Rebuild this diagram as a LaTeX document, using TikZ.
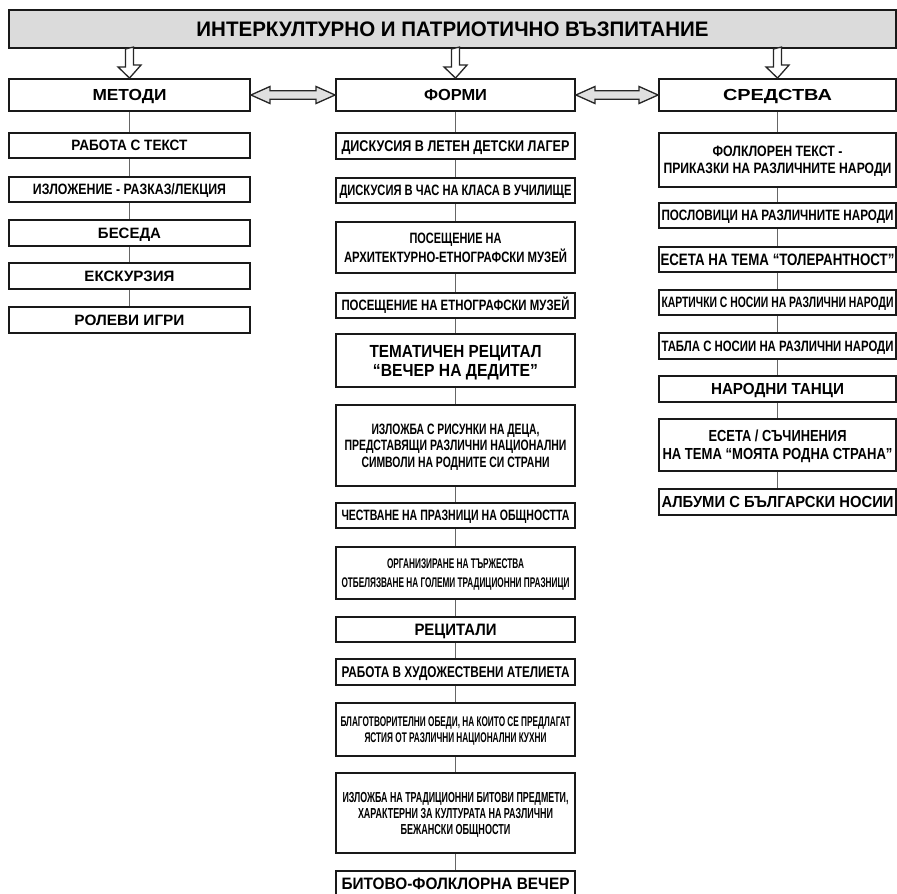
\documentclass[tikz,border=0pt]{standalone}
\usepackage{fontspec}
\setmainfont{Liberation Sans}
\usepackage{graphicx}
\usetikzlibrary{calc}

\newcommand{\fitto}[2]{\raisebox{0pt}[0.72em][0pt]{\resizebox{#1pt}{\height}{#2}}}
\newcommand{\fsz}[2]{\fontsize{#1}{#2}\selectfont\bfseries}

\begin{document}
\begin{tikzpicture}[x=1pt,y=-1pt,
  box/.style={draw=black!90,line width=1.9pt,fill=white,inner sep=0pt,align=center},
  mcol/.style={box,minimum width=241pt},
  fcol/.style={box,minimum width=239pt},
  scol/.style={box,minimum width=237pt},
  link/.style={draw=black!60,line width=0.9pt},
  downarrow/.style={draw=black!85,line width=1.3pt,fill=white,line join=miter},
  twoway/.style={draw=black!85,line width=1.3pt,fill=black!12,line join=miter}]
\fill[white] (0,0) rectangle (897,894);
\useasboundingbox (0,0) rectangle (897,894);

% title and the three column heads
\node[box,fill=black!14,minimum width=887pt,minimum height=38pt,font=\fsz{21}{25}] (head) at (452.5,29) {\fitto{512}{ИНТЕРКУЛТУРНО И ПАТРИОТИЧНО ВЪЗПИТАНИЕ}};
\node[mcol,minimum height=32pt,font=\fsz{16}{18}] (methods) at (129.5,95) {\fitto{74}{МЕТОДИ}};
\node[fcol,minimum height=32pt,font=\fsz{16}{18}] (forms) at (455.5,95) {\fitto{63}{ФОРМИ}};
\node[scol,minimum height=32pt,font=\fsz{16}{18}] (means) at (777.5,95) {\fitto{109}{СРЕДСТВА}};

% methods
\node[mcol,minimum height=25pt,font=\fsz{15}{17}] (m1) at (129.5,145.5) {\fitto{116}{РАБОТА С ТЕКСТ}};
\node[mcol,minimum height=25pt,font=\fsz{15}{17}] (m2) at (129.5,189.5) {\fitto{193}{ИЗЛОЖЕНИЕ - РАЗКАЗ/ЛЕКЦИЯ}};
\node[mcol,minimum height=26pt,font=\fsz{15}{17}] (m3) at (129.5,233) {\fitto{63}{БЕСЕДА}};
\node[mcol,minimum height=26pt,font=\fsz{15}{17}] (m4) at (129.5,276) {\fitto{90}{ЕКСКУРЗИЯ}};
\node[mcol,minimum height=26pt,font=\fsz{15}{17}] (m5) at (129.5,320) {\fitto{110}{РОЛЕВИ ИГРИ}};

% forms
\node[fcol,minimum height=26pt,font=\fsz{15.5}{18}] (f1) at (455.5,146) {\fitto{228}{ДИСКУСИЯ В ЛЕТЕН ДЕТСКИ ЛАГЕР}};
\node[fcol,minimum height=25pt,font=\fsz{15}{17}] (f2) at (455.5,190.5) {\fitto{232}{ДИСКУСИЯ В ЧАС НА КЛАСА В УЧИЛИЩЕ}};
\node[fcol,minimum height=51pt,font=\fsz{15}{19}] (f3) at (455.5,247.5) {\fitto{92}{ПОСЕЩЕНИЕ НА}\\\fitto{223}{АРХИТЕКТУРНО-ЕТНОГРАФСКИ МУЗЕЙ}};
\node[fcol,minimum height=25pt,font=\fsz{15}{17}] (f4) at (455.5,305.5) {\fitto{228}{ПОСЕЩЕНИЕ НА ЕТНОГРАФСКИ МУЗЕЙ}};
\node[fcol,minimum height=53pt,font=\fsz{17.5}{18.5}] (f5) at (455.5,360.5) {\fitto{172}{ТЕМАТИЧЕН РЕЦИТАЛ}\\\fitto{165}{“ВЕЧЕР НА ДЕДИТЕ”}};
\node[fcol,minimum height=81pt,font=\fsz{15}{16.5}] (f6) at (455.5,445.5) {\fitto{168}{ИЗЛОЖБА С РИСУНКИ НА ДЕЦА,}\\\fitto{222}{ПРЕДСТАВЯЩИ РАЗЛИЧНИ НАЦИОНАЛНИ}\\\fitto{188}{СИМВОЛИ НА РОДНИТЕ СИ СТРАНИ}};
\node[fcol,minimum height=25pt,font=\fsz{15}{17}] (f7) at (455.5,515.5) {\fitto{228}{ЧЕСТВАНЕ НА ПРАЗНИЦИ НА ОБЩНОСТТА}};
\node[fcol,minimum height=52pt,font=\fsz{14}{19}] (f8) at (455.5,573) {\fitto{137}{ОРГАНИЗИРАНЕ НА ТЪРЖЕСТВА}\\\fitto{228}{ОТБЕЛЯЗВАНЕ НА ГОЛЕМИ ТРАДИЦИОННИ ПРАЗНИЦИ}};
\node[fcol,minimum height=25pt,font=\fsz{16.5}{18}] (f9) at (455.5,629.5) {\fitto{82}{РЕЦИТАЛИ}};
\node[fcol,minimum height=26pt,font=\fsz{15.5}{18}] (f10) at (455.5,672) {\fitto{228}{РАБОТА В ХУДОЖЕСТВЕНИ АТЕЛИЕТА}};
\node[fcol,minimum height=53pt,font=\fsz{14}{16}] (f11) at (455.5,729.5) {\fitto{230}{БЛАГОТВОРИТЕЛНИ ОБЕДИ, НА КОИТО СЕ ПРЕДЛАГАТ}\\\fitto{182}{ЯСТИЯ ОТ РАЗЛИЧНИ НАЦИОНАЛНИ КУХНИ}};
\node[fcol,minimum height=80pt,font=\fsz{14.5}{16}] (f12) at (455.5,813) {\fitto{226}{ИЗЛОЖБА НА ТРАДИЦИОННИ БИТОВИ ПРЕДМЕТИ,}\\\fitto{195}{ХАРАКТЕРНИ ЗА КУЛТУРАТА НА РАЗЛИЧНИ}\\\fitto{110}{БЕЖАНСКИ ОБЩНОСТИ}};
\node[fcol,minimum height=25pt,font=\fsz{16.5}{18}] (f13) at (455.5,883.5) {\fitto{228}{БИТОВО-ФОЛКЛОРНА ВЕЧЕР}};

% means
\node[scol,minimum height=54pt,font=\fsz{15}{17}] (s1) at (777.5,160) {\fitto{130}{ФОЛКЛОРЕН ТЕКСТ -}\\\fitto{228}{ПРИКАЗКИ НА РАЗЛИЧНИТЕ НАРОДИ}};
\node[scol,minimum height=25pt,font=\fsz{15}{17}] (s2) at (777.5,215.5) {\fitto{232}{ПОСЛОВИЦИ НА РАЗЛИЧНИТЕ НАРОДИ}};
\node[scol,minimum height=25pt,font=\fsz{16.5}{18}] (s3) at (777.5,259.5) {\fitto{234}{ЕСЕТА НА ТЕМА “ТОЛЕРАНТНОСТ”}};
\node[scol,minimum height=25pt,font=\fsz{15}{17}] (s4) at (777.5,302.5) {\fitto{232}{КАРТИЧКИ С НОСИИ НА РАЗЛИЧНИ НАРОДИ}};
\node[scol,minimum height=26pt,font=\fsz{15}{17}] (s5) at (777.5,346) {\fitto{232}{ТАБЛА С НОСИИ НА РАЗЛИЧНИ НАРОДИ}};
\node[scol,minimum height=26pt,font=\fsz{16}{18}] (s6) at (777.5,389) {\fitto{133}{НАРОДНИ ТАНЦИ}};
\node[scol,minimum height=52pt,font=\fsz{16}{18}] (s7) at (777.5,445) {\fitto{138}{ЕСЕТА / СЪЧИНЕНИЯ}\\\fitto{230}{НА ТЕМА “МОЯТА РОДНА СТРАНА”}};
\node[scol,minimum height=26pt,font=\fsz{16}{18}] (s8) at (777.5,502) {\fitto{232}{АЛБУМИ С БЪЛГАРСКИ НОСИИ}};

% vertical links
\draw[link] (methods) -- (m1) -- (m2) -- (m3) -- (m4) -- (m5);
\draw[link] (forms) -- (f1) -- (f2) -- (f3) -- (f4) -- (f5) -- (f6) -- (f7) -- (f8) -- (f9) -- (f10) -- (f11) -- (f12) -- (f13);
\draw[link] (means) -- (s1) -- (s2) -- (s3) -- (s4) -- (s5) -- (s6) -- (s7) -- (s8);

% hollow arrows from the title
\draw[downarrow] ($(head.south -| methods.north)+(-4,0)$) -- ++(0,18) -- ++(-7.5,0) -- (methods.north) -- ++(11.5,-13) -- ++(-7.5,0) -- ++(0,-18) -- cycle;
\draw[downarrow] ($(head.south -| forms.north)+(-4,0)$) -- ++(0,18) -- ++(-7.5,0) -- (forms.north) -- ++(11.5,-13) -- ++(-7.5,0) -- ++(0,-18) -- cycle;
\draw[downarrow] ($(head.south -| means.north)+(-4,0)$) -- ++(0,18) -- ++(-7.5,0) -- (means.north) -- ++(11.5,-13) -- ++(-7.5,0) -- ++(0,-18) -- cycle;

% two-way arrows between the heads
\draw[twoway] (methods.east) -- ++(19,-8.5) -- ++(0,4.3) -- ($(forms.west)+(-19,-4.2)$) -- ++(0,-4.3) -- (forms.west) -- ++(-19,8.5) -- ++(0,-4.3) -- ($(methods.east)+(19,4.2)$) -- ++(0,4.3) -- cycle;
\draw[twoway] (forms.east) -- ++(19,-8.5) -- ++(0,4.3) -- ($(means.west)+(-19,-4.2)$) -- ++(0,-4.3) -- (means.west) -- ++(-19,8.5) -- ++(0,-4.3) -- ($(forms.east)+(19,4.2)$) -- ++(0,4.3) -- cycle;
\end{tikzpicture}
\end{document}
